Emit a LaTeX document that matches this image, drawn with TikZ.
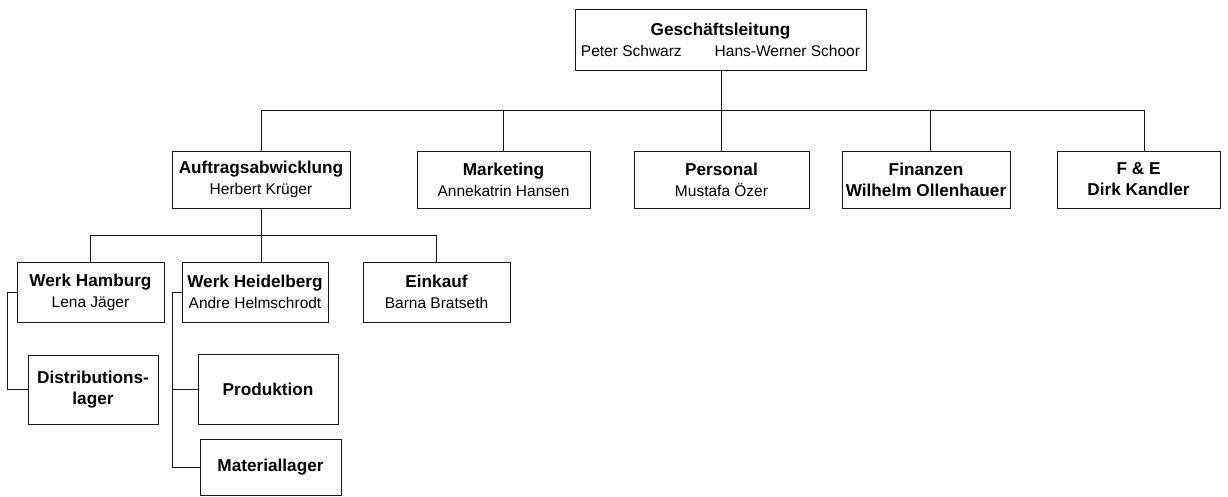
\documentclass[tikz,border=0pt]{standalone}
\usepackage{fontspec}
\setmainfont{Liberation Sans}
\begin{document}
\begin{tikzpicture}[x=1pt,y=-1pt,
  box/.style={draw=black!90, line width=0.9pt, inner sep=0pt, align=center,
    font=\fontsize{15.5}{21}\selectfont},
  link/.style={draw=black!90, line width=0.9pt}]
\useasboundingbox (0,0) rectangle (1228,497);
\newcommand{\hd}[1]{{\fontsize{17.2}{21}\selectfont\bfseries #1}}
\newcommand{\nm}[1]{{\fontsize{15.5}{21}\selectfont #1}}

% management board
\node[box, minimum width=291pt, minimum height=61pt] (gl) at (720.5,39.5)
  {\hd{Geschäftsleitung}\\ \nm{Peter Schwarz}\hspace{33pt}\nm{Hans-Werner Schoor}};

% departments
\node[box, minimum width=178pt, minimum height=57pt] (auf) at (261,179.5)
  {\hd{Auftragsabwicklung}\\ \nm{Herbert Krüger}};
\node[box, minimum width=173pt, minimum height=57pt] (mkt) at (503.5,179.5)
  {\hd{Marketing}\\ \nm{Annekatrin Hansen}};
\node[box, minimum width=175pt, minimum height=57pt] (per) at (721.5,179.5)
  {\hd{Personal}\\ \nm{Mustafa Özer}};
\node[box, minimum width=168pt, minimum height=57pt] (fin) at (926,179.5)
  {\hd{Finanzen}\\ \hd{Wilhelm Ollenhauer}};
\node[box, minimum width=163pt, minimum height=57pt] (fue) at (1138.5,179.5)
  {\hd{F \& E}\\ \hd{Dirk Kandler}};

% plants and purchasing
\node[box, minimum width=147pt, minimum height=60pt] (ham) at (90.5,292)
  {\hd{Werk Hamburg}\\ \nm{Lena Jäger}};
\node[box, minimum width=146pt, minimum height=60pt] (hei) at (255,292)
  {\hd{Werk Heidelberg}\\ \nm{Andre Helmschrodt}};
\node[box, minimum width=147pt, minimum height=60pt] (ein) at (436.5,292)
  {\hd{Einkauf}\\ \nm{Barna Bratseth}};

% units below the plants
\node[box, minimum width=130pt, minimum height=69pt] (dis) at (93,389.5)
  {\hd{Distributions-}\\ \hd{lager}};
\node[box, minimum width=140pt, minimum height=70pt] (pro) at (268,389)
  {\hd{Produktion}};
\node[box, minimum width=141pt, minimum height=56pt] (mat) at (270.5,467)
  {\hd{Materiallager}};

% top-level bus
\coordinate (busL) at (261,110);
\coordinate (busR) at (1144,110);
\draw[link] (busL) -- (busR);
\draw[link] ([xshift=0.5pt]gl.south) -- ([xshift=-0.5pt]per.north);
\draw[link] (auf.north) -- (auf.north |- busL);
\draw[link] (mkt.north) -- (mkt.north |- busL);
\draw[link] ([xshift=4pt]fin.north) -- ([xshift=4pt]fin.north |- busL);
\draw[link] ([xshift=5.5pt]fue.north) -- ([xshift=5.5pt]fue.north |- busL);

% second-level bus
\coordinate (subL) at (90.5,235);
\coordinate (subR) at (436.5,235);
\draw[link] (subL) -- (subR);
\draw[link] (auf.south) -- (auf.south |- hei.north);
\draw[link] (ham.north) -- (ham.north |- subL);
\draw[link] (ein.north) -- (ein.north |- subL);

% side connectors
\draw[link] (ham.west) -- ++(-9,0) |- (dis.west);
\draw[link] (hei.west) -- ++(-9,0) |- (pro.west);
\draw[link] (hei.west) -- ++(-9,0) |- (mat.west);
\end{tikzpicture}
\end{document}
